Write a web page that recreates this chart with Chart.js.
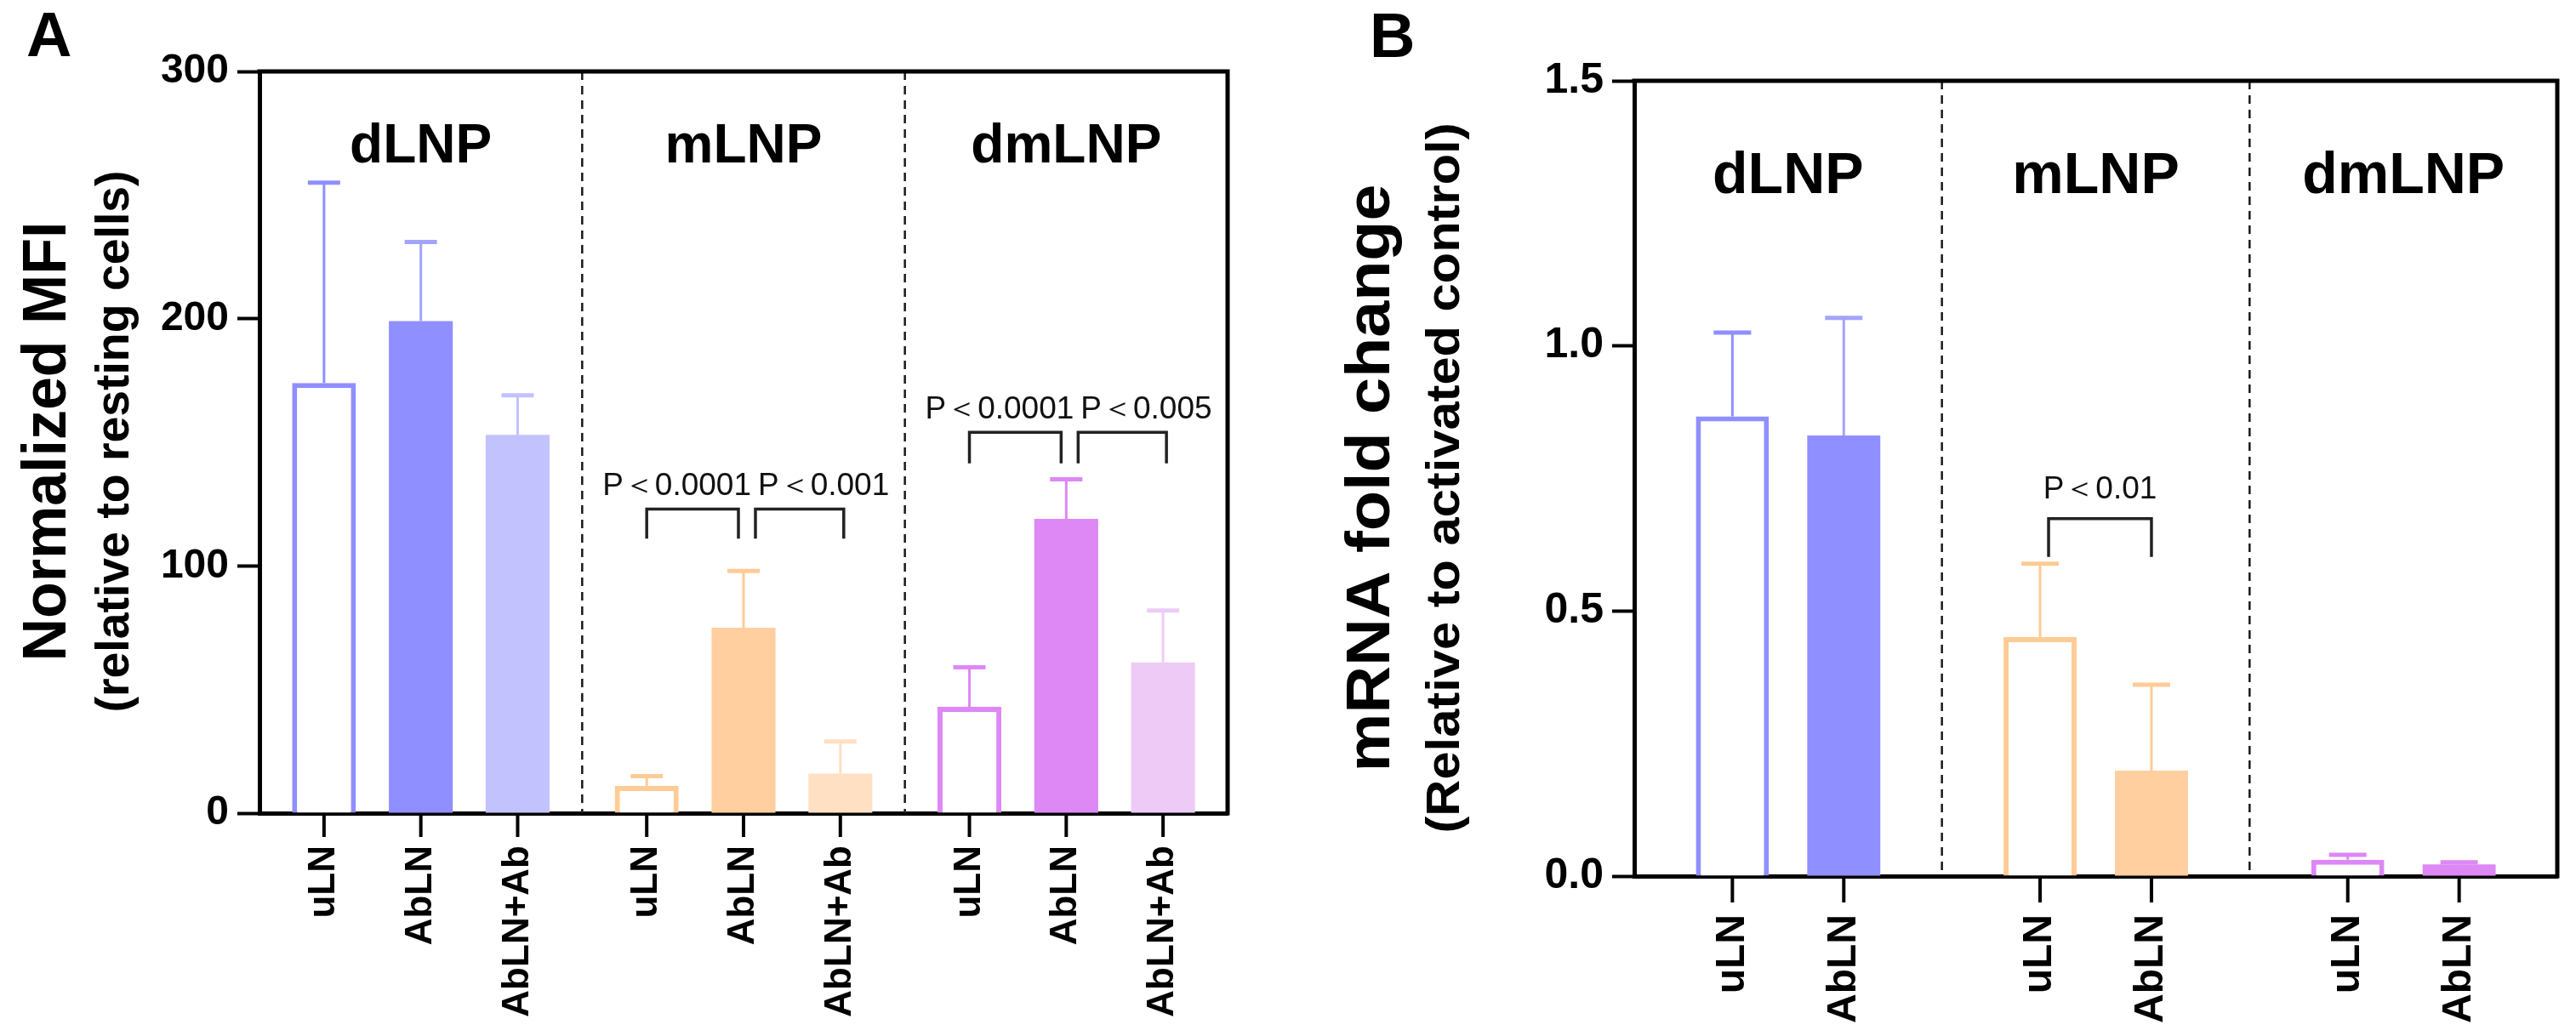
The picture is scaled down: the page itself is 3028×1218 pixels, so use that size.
<!DOCTYPE html>
<html>
<head>
<meta charset="utf-8">
<script src="https://cdn.jsdelivr.net/npm/chart.js@4.4.1/dist/chart.umd.min.js"></script>
<style>
html, body { margin: 0; padding: 0; background: #fff; overflow: hidden; }
#lienzo { position: relative; width: 3028px; height: 1218px; }
.panel { position: absolute; top: 0; height: 1218px; }
#cajaA { left: 0; width: 1500px; }
#cajaB { left: 1500px; width: 1528px; }
</style>
</head>
<body>
<div id="lienzo">
  <div class="panel" id="cajaA"><canvas id="graficoA"></canvas></div>
  <div class="panel" id="cajaB"><canvas id="graficoB"></canvas></div>
</div>
<script>
// ---- Panel A: MFI normalizado ----
var gruposA = ['dLNP', 'mLNP', 'dmLNP'];
var seriesA = ['uLN', 'AbLN', 'AbLN+Ab'];
var uLNA = [174, 11, 43];
var abLNA = [199, 75, 119];
var abLNAbA = [153, 16, 61];
var uLNAerr = [81, 4, 16];
var abLNAerr = [32, 23, 16];
var abLNAbAerr = [16, 13, 21];
var ticksA = [0, 100, 200, 300];
var compA = [[1, 0, 1, 'P＜0.0001'], [1, 1, 2, 'P＜0.001'], [2, 0, 1, 'P＜0.0001'], [2, 1, 2, 'P＜0.005']];

// ---- Panel B: cambio de mRNA ----
var gruposB = ['dLNP', 'mLNP', 'dmLNP'];
var seriesB = ['uLN', 'AbLN'];
var uLNB = [0.867, 0.451, 0.031];
var abLNB = [0.831, 0.199, 0.022];
var uLNBerr = [0.158, 0.138, 0.009];
var abLNBerr = [0.222, 0.162, 0.004];
var ticksB = [0, 0.5, 1.0, 1.5];
var compB = [[1, 0, 1, 'P＜0.01']];

var FUENTE = '"Liberation Sans", Arial, sans-serif';

// colores por grupo (dLNP, mLNP, dmLNP)
var colorBorde = ['#8F8FFF', '#FFCB96', '#DD88F5'];
var colorAbLN = ['#8F8FFF', '#FFCF9F', '#DD88F5'];
var colorAbLNAb = ['#C2C2FF', '#FFE0C2', '#EECBF6'];
var colorErrAbLN = ['#A3A3FF', '#FFCB96', '#DD88F5'];

function textoVertical(ctx, texto, x, y, fuente, largo) {
    ctx.save();
    ctx.font = fuente;
    var w = ctx.measureText(texto).width;
    ctx.translate(x, y);
    ctx.rotate(-Math.PI / 2);
    ctx.scale(largo / w, 1);
    ctx.textAlign = 'center';
    ctx.textBaseline = 'alphabetic';
    ctx.fillStyle = '#000';
    ctx.fillText(texto, 0, 0);
    ctx.restore();
}

function crearPanel(idCanvas, cfg) {
    var datasets = cfg.series.map(function(nombre, i) {
        return {
            label: nombre,
            data: cfg.valores[i],
            backgroundColor: i === 0 ? '#FFFFFF' : cfg.rellenos[i],
            borderColor: i === 0 ? colorBorde : cfg.rellenos[i],
            borderWidth: i === 0 ? 6 : 0,
            errores: cfg.errores[i],
            colorErr: cfg.coloresErr[i]
        };
    });

    var dibujo = {
        id: 'dibujo',
        beforeDatasetsDraw: function(chart) {
            // separadores punteados entre grupos
            var ctx = chart.ctx, area = chart.chartArea, x = chart.scales.x;
            ctx.save();
            ctx.strokeStyle = '#1a1a1a';
            ctx.lineWidth = 2.5;
            ctx.setLineDash([10, 7]);
            for (var j = 0; j < cfg.grupos.length - 1; j++) {
                var xs = (x.getPixelForValue(j) + x.getPixelForValue(j + 1)) / 2;
                ctx.beginPath();
                ctx.moveTo(xs, area.top);
                ctx.lineTo(xs, area.bottom);
                ctx.stroke();
            }
            ctx.restore();
        },
        afterDatasetsDraw: function(chart) {
            // barras de error (solo hacia arriba)
            var ctx = chart.ctx, y = chart.scales.y;
            ctx.save();
            chart.data.datasets.forEach(function(ds, i) {
                var meta = chart.getDatasetMeta(i);
                meta.data.forEach(function(bar, j) {
                    var yTope = y.getPixelForValue(ds.data[j] + ds.errores[j]);
                    ctx.strokeStyle = ds.colorErr[j];
                    ctx.lineWidth = 3;
                    ctx.beginPath();
                    ctx.moveTo(bar.x, bar.y);
                    ctx.lineTo(bar.x, yTope);
                    ctx.stroke();
                    ctx.lineWidth = 5;
                    ctx.beginPath();
                    ctx.moveTo(bar.x - cfg.capa / 2, yTope);
                    ctx.lineTo(bar.x + cfg.capa / 2, yTope);
                    ctx.stroke();
                });
            });
            ctx.restore();
        },
        afterDraw: function(chart) {
            var ctx = chart.ctx, area = chart.chartArea, x = chart.scales.x, y = chart.scales.y;
            ctx.save();
            // marco superior y derecho
            ctx.strokeStyle = '#000';
            ctx.lineWidth = 5;
            ctx.beginPath();
            ctx.moveTo(area.left - 2.5, area.top);
            ctx.lineTo(area.right, area.top);
            ctx.lineTo(area.right, area.bottom + 2.5);
            ctx.stroke();

            // nombres de grupo
            ctx.fillStyle = '#000';
            ctx.font = 'bold ' + cfg.tamGrupo + 'px ' + FUENTE;
            ctx.textAlign = 'center';
            ctx.textBaseline = 'alphabetic';
            cfg.grupos.forEach(function(g, j) {
                ctx.fillText(g, x.getPixelForValue(j), cfg.baseGrupo);
            });

            // marcas y etiquetas del eje x, una por barra
            chart.data.datasets.forEach(function(ds, i) {
                chart.getDatasetMeta(i).data.forEach(function(bar) {
                    ctx.strokeStyle = '#000';
                    ctx.lineWidth = 4;
                    ctx.beginPath();
                    ctx.moveTo(bar.x, area.bottom);
                    ctx.lineTo(bar.x, area.bottom + cfg.largoMarca);
                    ctx.stroke();
                    ctx.save();
                    ctx.translate(bar.x, area.bottom + cfg.inicioEtiqueta);
                    ctx.rotate(-Math.PI / 2);
                    ctx.font = 'bold ' + cfg.tamEtiqueta + 'px ' + FUENTE;
                    ctx.textAlign = 'right';
                    ctx.textBaseline = 'middle';
                    ctx.fillText(ds.label, 0, 0);
                    ctx.restore();
                });
            });

            // comparaciones con P
            ctx.font = '37px ' + FUENTE;
            ctx.textBaseline = 'alphabetic';
            var porGrupo = {};
            cfg.comparaciones.forEach(function(c) { porGrupo[c[0]] = (porGrupo[c[0]] || 0) + 1; });
            var vistos = {};
            cfg.comparaciones.forEach(function(c) {
                var g = c[0];
                var b0 = chart.getDatasetMeta(c[1]).data[g];
                var b1 = chart.getDatasetMeta(c[2]).data[g];
                var nivel = cfg.niveles[g];
                var yA = y.getPixelForValue(nivel[0]);
                var yB = y.getPixelForValue(nivel[1]);
                var x0, x1, tx, al;
                var medio = chart.getDatasetMeta(1).data[g].x;
                if (porGrupo[g] === 1) {
                    x0 = b0.x + 10; x1 = b1.x; tx = (x0 + x1) / 2; al = 'center';
                } else if (!vistos[g]) {
                    x0 = b0.x; x1 = b1.x - 6; tx = medio + 9; al = 'right';
                } else {
                    x0 = b0.x + 14; x1 = b1.x + 4; tx = medio + 17; al = 'left';
                }
                vistos[g] = true;
                ctx.strokeStyle = '#222';
                ctx.lineWidth = 3.5;
                ctx.beginPath();
                ctx.moveTo(x0, yB);
                ctx.lineTo(x0, yA);
                ctx.lineTo(x1, yA);
                ctx.lineTo(x1, yB);
                ctx.stroke();
                ctx.textAlign = al;
                ctx.fillStyle = '#111';
                ctx.fillText(c[3], tx, yA - cfg.sepTexto);
            });

            // titulos del eje y y letra de panel
            textoVertical(ctx, cfg.titulo[0], cfg.tituloX[0], cfg.tituloY, 'bold 72px ' + FUENTE, cfg.tituloLargo[0]);
            textoVertical(ctx, cfg.titulo[1], cfg.tituloX[1], cfg.tituloY, 'bold 56px ' + FUENTE, cfg.tituloLargo[1]);
            ctx.fillStyle = '#000';
            ctx.font = 'bold 74px ' + FUENTE;
            ctx.textAlign = 'left';
            ctx.fillText(cfg.letra, cfg.letraX, cfg.letraY);
            ctx.restore();
        }
    };

    return new Chart(document.getElementById(idCanvas), {
        type: 'bar',
        data: { labels: cfg.grupos, datasets: datasets },
        options: {
            responsive: true,
            maintainAspectRatio: false,
            animation: false,
            layout: { padding: cfg.relleno },
            categoryPercentage: cfg.catPct,
            barPercentage: cfg.barPct,
            plugins: { legend: { display: false }, tooltip: { enabled: false } },
            scales: {
                x: {
                    z: 1,
                    ticks: { display: false },
                    grid: { display: false },
                    border: { display: true, width: 5, color: '#000' },
                    afterFit: function(s) { s.height = cfg.altoX; }
                },
                y: {
                    z: 1,
                    min: cfg.ticks[0],
                    max: cfg.ticks[cfg.ticks.length - 1],
                    afterBuildTicks: function(s) {
                        s.ticks = cfg.ticks.map(function(v) { return { value: v }; });
                    },
                    ticks: {
                        color: '#000',
                        padding: 10,
                        font: { family: FUENTE, size: cfg.tamTick, weight: 'bold' },
                        callback: cfg.formato
                    },
                    grid: { drawOnChartArea: false, drawTicks: true, tickLength: 26, tickWidth: 4, tickColor: '#000' },
                    border: { display: true, width: 5, color: '#000' },
                    afterFit: function(s) { s.width = cfg.anchoY; }
                }
            }
        },
        plugins: [dibujo]
    });
}

crearPanel('graficoA', {
    grupos: gruposA,
    series: seriesA,
    valores: [uLNA, abLNA, abLNAbA],
    errores: [uLNAerr, abLNAerr, abLNAbAerr],
    rellenos: [colorBorde, colorAbLN, colorAbLNAb],
    coloresErr: [colorBorde, colorErrAbLN, colorAbLNAb],
    ticks: ticksA,
    formato: function(v) { return String(v); },
    comparaciones: compA,
    niveles: { 1: [123, 111], 2: [154, 141.5] },
    sepTexto: 16,
    relleno: { left: 0, top: 84, right: 57, bottom: 0 },
    anchoY: 305,
    altoX: 262,
    catPct: 0.9,
    barPct: 0.66,
    capa: 38,
    tamTick: 48,
    tamGrupo: 64,
    baseGrupo: 191,
    tamEtiqueta: 44,
    largoMarca: 28,
    inicioEtiqueta: 38,
    titulo: ['Normalized MFI', '(relative to resting cells)'],
    tituloX: [77, 151],
    tituloY: 519,
    tituloLargo: [517, 637],
    letra: 'A', letraX: 31, letraY: 66
});

crearPanel('graficoB', {
    grupos: gruposB,
    series: seriesB,
    valores: [uLNB, abLNB],
    errores: [uLNBerr, abLNBerr],
    rellenos: [colorBorde, colorAbLN],
    coloresErr: [colorBorde, colorErrAbLN],
    ticks: ticksB,
    formato: function(v) { return v.toFixed(1); },
    comparaciones: compB,
    niveles: { 1: [0.674, 0.602] },
    sepTexto: 24,
    relleno: { left: 0, top: 95, right: 22, bottom: 0 },
    anchoY: 421,
    altoX: 188,
    catPct: 0.724,
    barPct: 0.656,
    capa: 44,
    tamTick: 50,
    tamGrupo: 68,
    baseGrupo: 227,
    tamEtiqueta: 48,
    largoMarca: 31,
    inicioEtiqueta: 45,
    titulo: ['mRNA fold change', '(Relative to activated control)'],
    tituloX: [133, 215],
    tituloY: 562,
    tituloLargo: [691, 835],
    letra: 'B', letraX: 110, letraY: 67
});
</script>
</body>
</html>
